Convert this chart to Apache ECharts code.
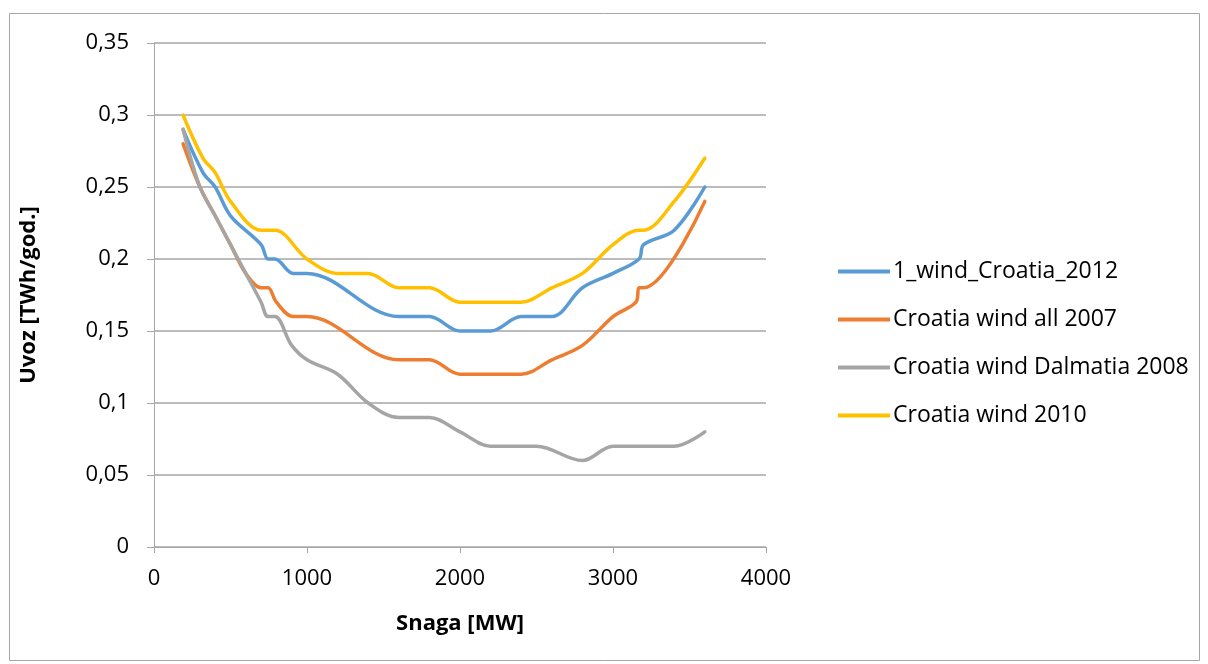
<!DOCTYPE html>
<html><head><meta charset="utf-8">
<script src="https://cdn.jsdelivr.net/npm/echarts@6/dist/echarts.min.js"></script>
<style>html,body{margin:0;padding:0;background:#fff}#c{width:1208px;height:664px}</style>
</head><body><div id="c"></div>
<script>
const seriesNames = ['1_wind_Croatia_2012','Croatia wind all 2007','Croatia wind Dalmatia 2008','Croatia wind 2010'];
const blueX = [190,320,400,500,700,745,790,910,1000,1600,1800,2000,2200,2400,2600,2800,3000,3170,3200,3400,3600];
const blueY = [0.29,0.26,0.25,0.23,0.21,0.20,0.20,0.19,0.19,0.16,0.16,0.15,0.15,0.16,0.16,0.18,0.19,0.20,0.21,0.22,0.25];
const orangeX = [190,300,400,500,600,700,745,800,910,1000,1600,1800,2000,2400,2600,2800,3000,3150,3170,3200,3600];
const orangeY = [0.28,0.25,0.23,0.21,0.19,0.18,0.18,0.17,0.16,0.16,0.13,0.13,0.12,0.12,0.13,0.14,0.16,0.17,0.18,0.18,0.24];
const grayX = [190,300,400,500,600,700,745,790,900,1000,1200,1400,1600,1800,2000,2200,2500,2800,3000,3400,3600];
const grayY = [0.29,0.25,0.23,0.21,0.19,0.17,0.16,0.16,0.14,0.13,0.12,0.10,0.09,0.09,0.08,0.07,0.07,0.06,0.07,0.07,0.08];
const yellowX = [190,320,400,500,700,790,1000,1200,1400,1600,1800,2000,2200,2400,2600,2800,3000,3170,3200,3400,3600];
const yellowY = [0.30,0.27,0.26,0.24,0.22,0.22,0.20,0.19,0.19,0.18,0.18,0.17,0.17,0.17,0.18,0.19,0.21,0.22,0.22,0.24,0.27];
const colors = ['#5B9BD5','#ED7D31','#A5A5A5','#FFC000'];

const pairs = (xs, ys) => xs.map((x, i) => [x, ys[i]]);
const allData = [pairs(blueX, blueY), pairs(orangeX, orangeY), pairs(grayX, grayY), pairs(yellowX, yellowY)];
const FONT = 'Open Sans';
const chart = echarts.init(document.getElementById('c'), null, {renderer: 'canvas'});
chart.setOption({
  animation: false,
  backgroundColor: '#fff',
  color: colors,
  textStyle: {fontFamily: FONT},
  graphic: [{type: 'rect', shape: {x: 9.5, y: 13.5, width: 1190, height: 647}, style: {fill: 'none', stroke: '#a6a6a6', lineWidth: 1}, silent: true, z: -1}],
  grid: {left: 154, top: 43, right: 442, bottom: 117, containLabel: false},
  legend: {
    orient: 'vertical', left: 833, top: 251, itemGap: 17, itemWidth: 52, itemHeight: 4,
    icon: 'rect',
    textStyle: {fontFamily: FONT, fontSize: 23, lineHeight: 31, color: '#000', padding: [0,0,0,-2]},
    data: seriesNames
  },
  xAxis: {
    type: 'value', min: 0, max: 4000, interval: 1000,
    name: 'Snaga [MW]', nameLocation: 'middle', nameGap: 66,
    nameTextStyle: {fontFamily: FONT, fontSize: 22, fontWeight: 'bold', color: '#000'},
    axisLine: {show: true, lineStyle: {color: '#a6a6a6', width: 1}},
    axisTick: {show: true, length: 6, lineStyle: {color: '#a6a6a6'}},
    axisLabel: {fontFamily: FONT, fontSize: 22, color: '#000', margin: 21, formatter: v => String(v)},
    splitLine: {show: false}
  },
  yAxis: {
    type: 'value', min: 0, max: 0.35, interval: 0.05,
    name: 'Uvoz [TWh/god.]', nameLocation: 'middle', nameGap: 114, nameRotate: 90,
    nameTextStyle: {fontFamily: FONT, fontSize: 22, fontWeight: 'bold', color: '#000'},
    axisLine: {show: true, lineStyle: {color: '#a6a6a6', width: 1}},
    axisTick: {show: true, length: 7, lineStyle: {color: '#a6a6a6'}},
    axisLabel: {fontFamily: FONT, fontSize: 22, color: '#000', margin: 25,
      formatter: v => String(Math.round(v * 100) / 100).replace('.', ',')},
    splitLine: {show: true, lineStyle: {color: '#a6a6a6', width: 1.5}}
  },
  series: seriesNames.map((n, i) => ({
    name: n, type: 'line', data: allData[i], smooth: 0.35, showSymbol: false, symbol: 'none',
    lineStyle: {width: 3.5, color: colors[i], cap: 'round', join: 'round'}
  }))
});
</script></body></html>
